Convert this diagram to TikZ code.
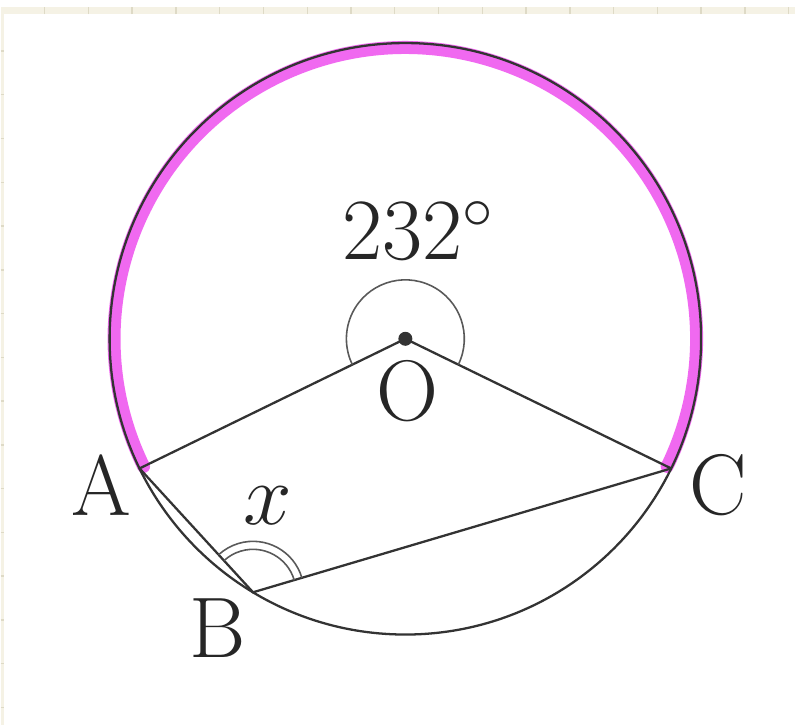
\documentclass[tikz,border=0pt]{standalone}
\usetikzlibrary{calc,angles}
\definecolor{ArcPink}{RGB}{240,105,240}
\definecolor{PageCream}{RGB}{245,242,229}
\definecolor{PageRule}{RGB}{222,218,198}
\tikzset{
  geo line/.style={line width=0.65pt, black!80},
  angle mark/.style={draw, line width=0.45pt, black!65},
  pt label/.style={font=\fontsize{24.5}{29}\selectfont, inner sep=0pt, text=black!85}
}
\begin{document}
\begin{tikzpicture}
% page and ruled margins
\fill[PageCream] (0,0) rectangle (7.95,7.19);
\fill[white] (0.03,0) rectangle (7.95,7.12);
\foreach \k in {0,...,17} {
  \draw[PageRule, line width=0.4pt] ({0.44+0.438*\k},7.12) -- ++(0,0.07);
}
\foreach \k in {0,...,15} {
  \draw[PageRule, line width=0.4pt] (0,{6.75-0.438*\k}) -- ++(0.03,0);
}
% circle and points
\def\rad{2.96}
\coordinate (O) at (4.05,3.87);
\coordinate (A) at ($(O)+(206:\rad)$);
\coordinate (B) at ($(O)+(239:\rad)$);
\coordinate (C) at ($(O)+(334:\rad)$);
\draw[ArcPink, line width=3.7pt, line cap=round] ($(O)+(206:\rad-0.045)$)
  arc[start angle=206, end angle=-26, radius=\rad-0.045];
\draw[geo line] (O) circle[radius=\rad];
\draw[geo line] (A) -- (O) -- (C);
\draw[geo line] (A) -- (B) -- (C);
% angle marks
\pic[angle mark, angle radius=0.59cm] {angle=C--O--A};
\pic[angle mark, angle radius=0.43cm] {angle=C--B--A};
\pic[angle mark, angle radius=0.51cm] {angle=C--B--A};
\fill[black!80] (O) circle[radius=0.07];
% labels
\node[pt label] (lblA) at (1.01,2.41) {A};
\node[pt label] (lblB) at (2.17,0.97) {B};
\node[pt label] (lblC) at (7.18,2.41) {C};
\node[pt label] (lblO) at (4.07,3.35) {O};
\node[pt label] (lblx) at (2.67,2.20) {$x$};
\node[pt label, anchor=base] (lblang) at (4.18,4.66) {$232^\circ$};
\end{tikzpicture}
\end{document}
